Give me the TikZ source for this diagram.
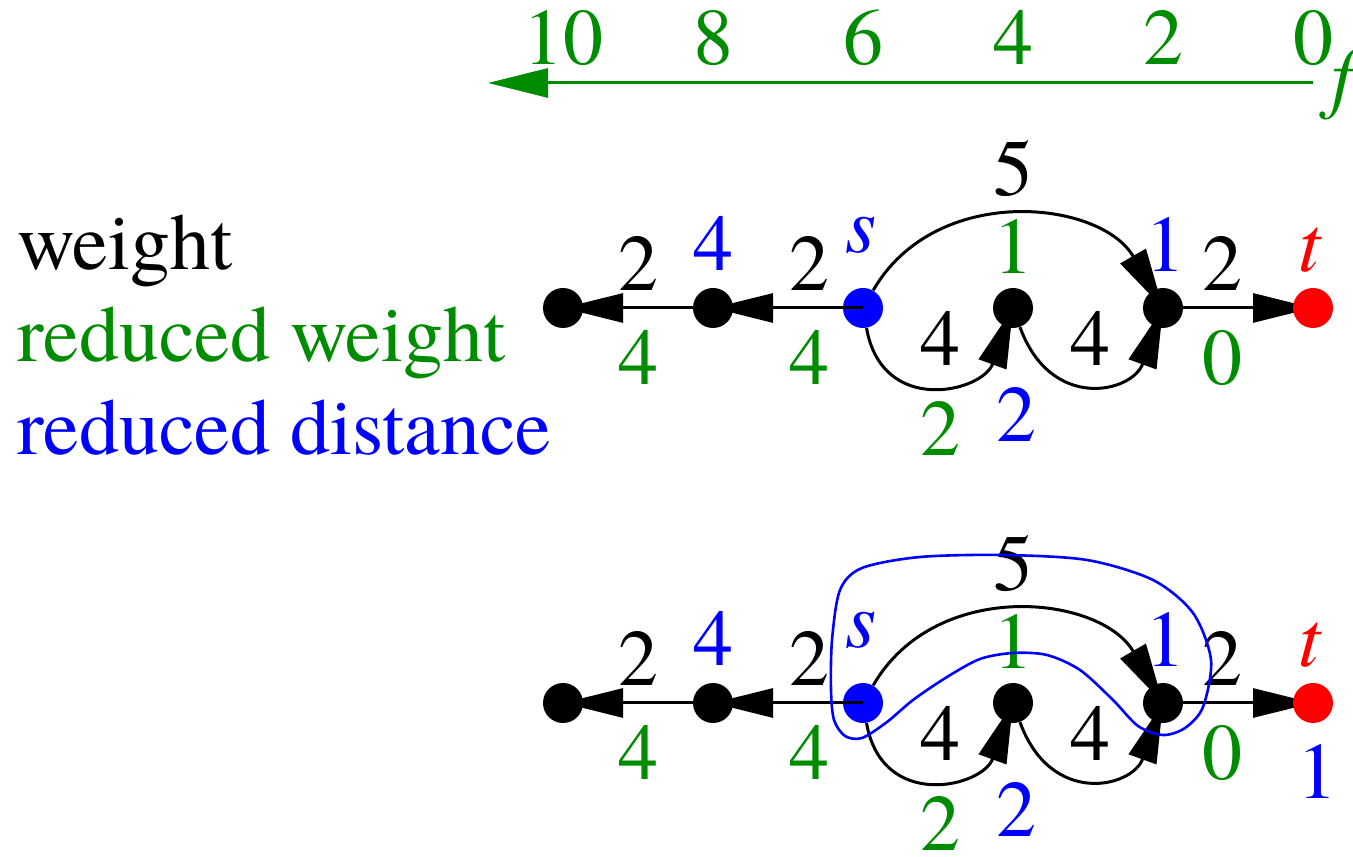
\documentclass[tikz,border=0pt]{standalone}
\usepackage{fontspec}
\setmainfont{texgyretermes}[Extension=.otf, UprightFont=*-regular,
	ItalicFont=*-italic, BoldFont=*-bold, BoldItalicFont=*-bolditalic]
\usetikzlibrary{calc,arrows.meta,backgrounds}
\definecolor{wgreen}{RGB}{0,140,0}

\begin{document}
\begin{tikzpicture}[x=0.5pt, y=0.5pt, font=\fontsize{40}{48}\selectfont,
	dot/.style={circle, fill, inner sep=0pt, minimum size=20pt},
	arr/.style={line width=1.5pt, -{Triangle[length=30pt, width=14.5pt]}}]
	\useasboundingbox (0,0) rectangle (1353,856);
	% f axis
	\coordinate (F0) at (1313,773);
	\coordinate (F10) at (488,773);
	\draw[wgreen, arr] (F0)--(F10);
	\foreach \v [count=\i from 0] in {0,2,4,6,8,10}
		\node[wgreen, anchor=base] (f\v) at (1313-150*\i,791) {\v};
	\node[wgreen] (fl) at (1343,771) {\itshape f};
	% legend
	\node[anchor=base west] (lw) at (10,586) {weight};
	\node[wgreen, anchor=base west] (lrw) at (10,494) {reduced weight};
	\node[blue, anchor=base west] (lrd) at (10,401) {reduced distance};
	% the graph, twice
	\foreach \r/\y in {a/548,b/153} {
		\node[dot] (\r1) at (563,\y) {};
		\node[dot] (\r2) at (713,\y) {};
		\node[dot, blue] (\r3) at (863,\y) {};
		\node[dot] (\r4) at (1013,\y) {};
		\node[dot] (\r5) at (1163,\y) {};
		\node[dot, red] (\r6) at (1313,\y) {};
		\draw[arr] (\r3.center)--(\r2.center);
		\draw[arr] (\r2.center)--(\r1.center);
		\draw[arr] (\r3) to[out=60, in=120, looseness=1.1] (\r5.center);
		\draw[arr] (\r3) to[out=-80, in=-110, looseness=1.55] (\r4.center);
		\draw[arr] (\r4) to[out=-70, in=-110, looseness=1.6] (\r5.center);
		\begin{scope}[on background layer]
			\draw[arr] (\r5.center)--(\r6.center);
		\end{scope}
		\node (\r-w12) at ($(\r1)+(75,45)$) {2};
		\node[wgreen] (\r-rw12) at ($(\r1)+(75,-49)$) {4};
		\node[blue] (\r-rd2) at ($(\r2)+(0,65)$) {4};
		\node (\r-w23) at ($(\r2)+(96,45)$) {2};
		\node[wgreen] (\r-rw23) at ($(\r2)+(96,-49)$) {4};
		\node[blue] (\r-s) at ($(\r3)+(-2,73)$) {\itshape s};
		\node (\r-w35) at ($(\r4)+(0,139)$) {5};
		\node[wgreen] (\r-rw35) at ($(\r4)+(0,62)$) {1};
		\node[blue] (\r-rd5) at ($(\r5)+(2,64)$) {1};
		\node (\r-w56) at ($(\r5)+(59,45)$) {2};
		\node[red] (\r-t) at ($(\r6)+(-3,58)$) {\itshape t};
		\node[wgreen] (\r-rw56) at ($(\r5)+(59,-50)$) {0};
		\node (\r-w34) at ($(\r3)+(77,-30)$) {4};
		\node (\r-w45) at ($(\r4)+(77,-30)$) {4};
		\node[wgreen] (\r-rw34) at ($(\r3)+(77,-120)$) {2};
		\node[blue] (\r-rd4) at ($(\r4)+(3,-106)$) {2};
	}
	\node[blue] (b-rd6) at ($(b6)+(4,-68)$) {1};
	% shortest path tree
	\draw[blue, line width=1.3pt] plot[smooth cycle] coordinates {
		(832,216) (840,266) (862,288) (920,299) (1003,301) (1087,296)
		(1153,276) (1193,243) (1211,196) (1203,149) (1185,128) (1163,121)
		(1138,130) (1113,156) (1080,186) (1047,201) (1013,203) (980,197)
		(947,179) (913,156) (887,134) (862,118) (845,120) (834,136) (831,166)};
\end{tikzpicture}
\end{document}
